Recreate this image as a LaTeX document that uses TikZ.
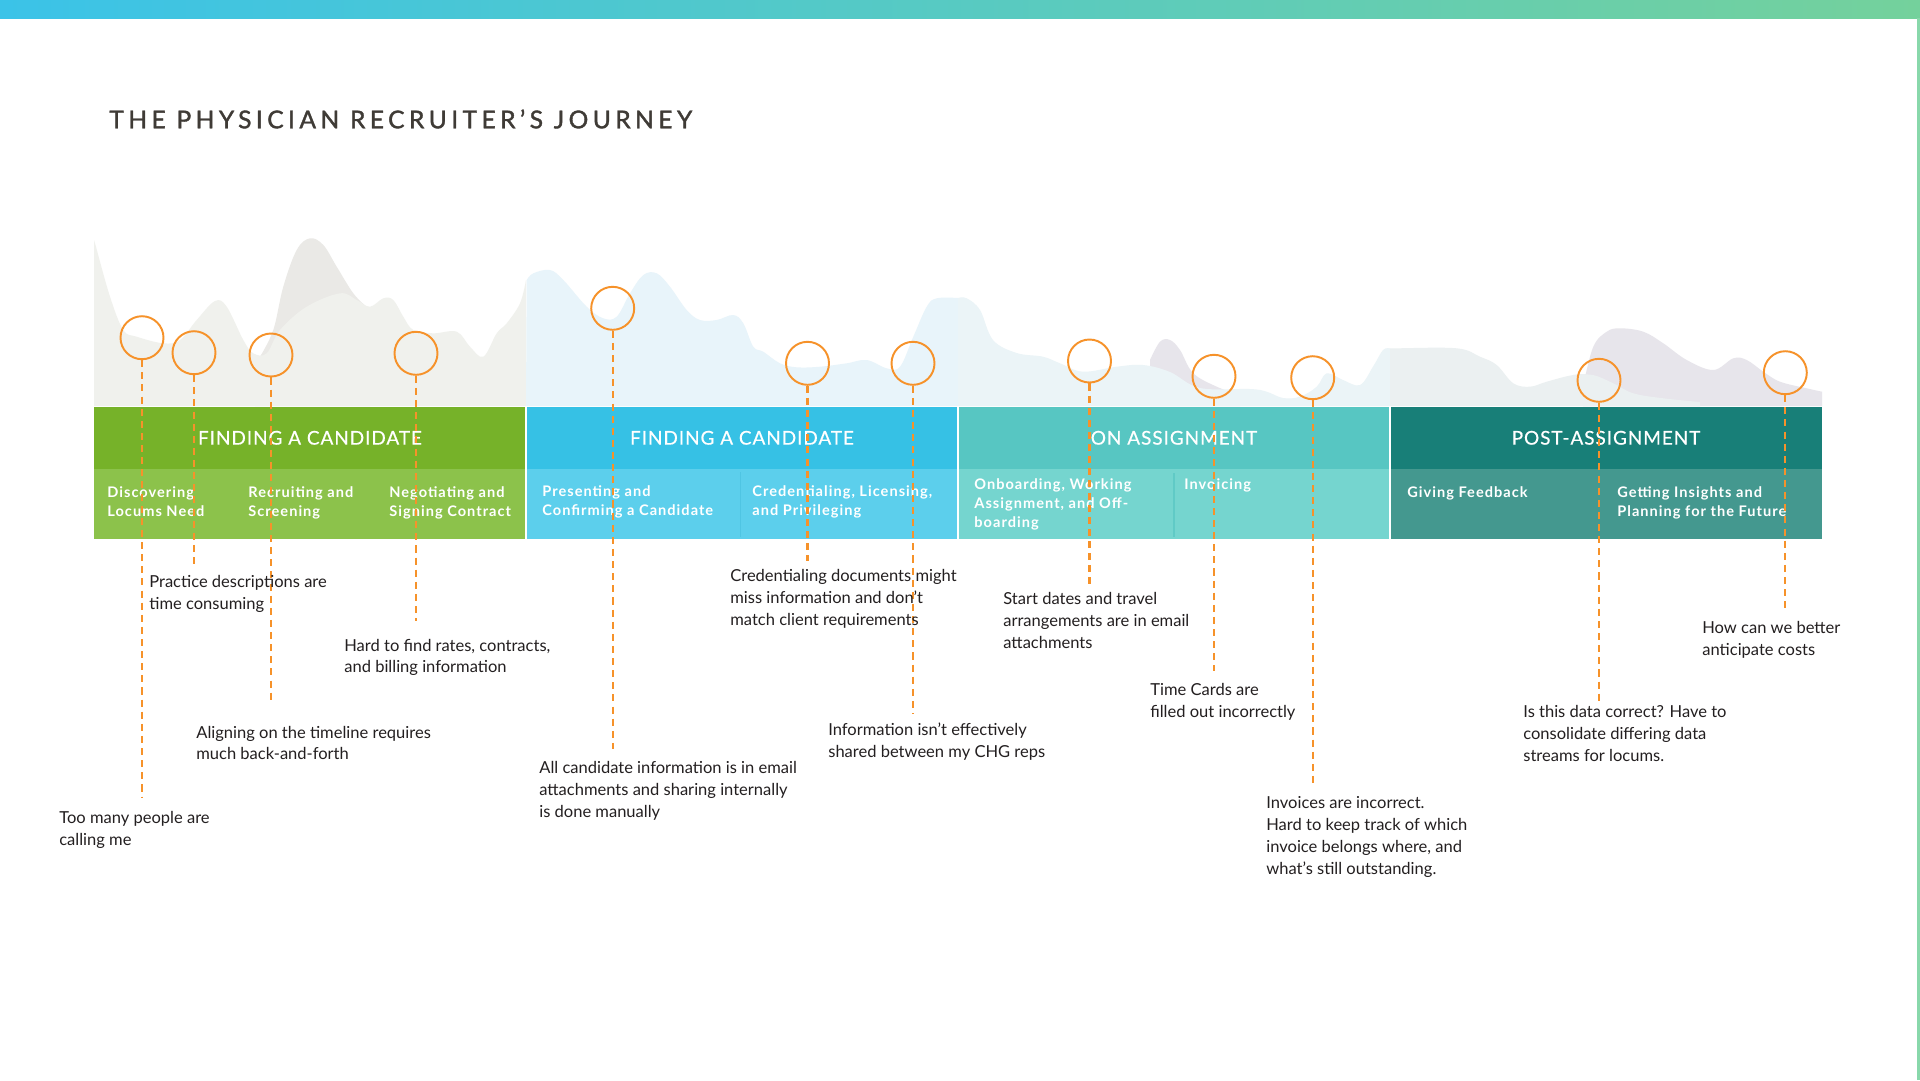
\documentclass[tikz,border=0pt]{standalone}
\usepackage{fontspec}
\setmainfont{Lato}
\newfontfamily\titlefont[LetterSpace=18,FakeBold=1.5]{Lato}
\newfontfamily\headfont[LetterSpace=5,FakeBold=0.5]{Lato}
\newfontfamily\subfont[LetterSpace=7]{Lato}
\newfontfamily\notefont{Lato}
\usetikzlibrary{positioning}

\definecolor{barL}{HTML}{3BC3E8}
\definecolor{barR}{HTML}{74D19C}
\definecolor{titlegray}{HTML}{3F3B36}
\definecolor{grnH}{HTML}{76B229}
\definecolor{grnS}{HTML}{8CC24B}
\definecolor{bluH}{HTML}{36C1E5}
\definecolor{bluS}{HTML}{5CCFEC}
\definecolor{teaH}{HTML}{57C6C2}
\definecolor{teaS}{HTML}{75D5CF}
\definecolor{dkH}{HTML}{187F78}
\definecolor{dkS}{HTML}{44988F}
\definecolor{painorange}{HTML}{F6922A}
\definecolor{notegray}{HTML}{231F20}
\definecolor{hillA}{HTML}{F0F1ED}
\definecolor{hillAd}{HTML}{EAE9E6}
\definecolor{hillB}{HTML}{E8F4FA}
\definecolor{hillC}{HTML}{EBF4F7}
\definecolor{hillD}{HTML}{EBF0F1}
\definecolor{hillP}{HTML}{E7E5EB}

\tikzset{
  hdr/.style={fill=#1, text=white, minimum width=8.64cm, minimum height=1.246cm,
    inner sep=0pt, font=\headfont\fontsize{10.8}{12}\selectfont},
  sublabel/.style={anchor=north west, inner sep=0pt, align=left, text=white,
    font=\subfont\bfseries\fontsize{8.3}{10.8}\selectfont},
  note/.style={anchor=north west, inner sep=0pt, align=left, text=notegray,
    font=\notefont\fontsize{9.4}{12.5}\selectfont},
  ringnode/.style={circle, draw=painorange, line width=1.1pt, minimum size=0.86cm, inner sep=0pt},
  painline/.style={draw=painorange, line width=1.25pt, dash pattern=on 4pt off 2.9pt}
}

\begin{document}
\begin{tikzpicture}[x=0.02cm, y=-0.02cm]
  \useasboundingbox (0,0) rectangle (1920,1080);
  \fill[white] (0,0) rectangle (1920,1080);

  % top bar and right edge
  \shade[left color=barL, right color=barR] (0,0) rectangle (1920,18);
  \fill[barR!85] (1917,18) rectangle (1920,1080);

  \node[anchor=west, inner sep=0pt, text=titlegray, font=\titlefont\fontsize{14}{16}\selectfont]
    (title) at (109,119) {THE PHYSICIAN RECRUITER’S JOURNEY};

  % hills behind the band
  \fill[hillAd] (255,406) -- plot[smooth, tension=0.6] coordinates {(260,356.7) (273.3,330) (283.3,286.7) (296.7,250) (310,238.3) (323.3,245) (336.7,266.7) (353.3,293.3) (366.7,307)} -- (370,406) -- cycle;
  \fill[hillA] (94,406) -- (94,240) -- plot[smooth, tension=0.6] coordinates {(96,246.7) (110,296.7) (123.3,330) (136.7,336.7) (163.3,343.3) (180,340) (196.7,320) (215,301) (226.7,306.7) (243.3,340) (253.3,353.3) (266.7,353.3) (280,330) (306.7,306.7) (340,293.3) (356.7,300) (370,306.7) (383.3,298.3) (393.3,300) (403.3,316.7) (413.3,330) (433.3,333.3) (456.7,331.7) (470,346.7) (483.3,356.7) (496.7,333.3) (506.7,323.3) (520,303.3) (526,280)} -- (526,406) -- cycle;
  \fill[hillB] (526,406) -- plot[smooth, tension=0.6] coordinates {(526.7,280) (533.3,273.3) (550,270) (563.3,280) (586.7,306.7) (603.3,318.3) (616.7,316.7) (630,293.3) (643.3,275) (656.7,273.3) (670,286.7) (686.7,310) (700,320) (716.7,320) (733.3,315) (743.3,323.3) (753.3,346.7) (763.3,351.7) (780,363.3) (796.7,367.3) (820,366.7) (846.7,363.3) (866.7,360) (886.7,368.3) (900,366.7) (913.3,336.7) (926.7,306.7) (936.7,298.3) (958,298)} -- (958,406) -- cycle;
  \fill[hillP] (1150,406) -- plot[smooth, tension=0.6] coordinates {(1150,360) (1160,341.7) (1170,340) (1180,350) (1193,373) (1216.7,386.7) (1240,395)} -- (1240,406) -- cycle;
  \fill[hillC] (958,406) -- plot[smooth, tension=0.6] coordinates {(958,298) (966.7,298.3) (980,310) (993,340) (1016.7,353) (1043,356.7) (1060,363.3) (1083,371.7) (1116.7,366.7) (1143,365) (1170,372) (1200,388) (1250,389) (1266.7,391.7) (1283,398) (1300,396.7) (1316.7,386.7) (1326.7,373.3) (1343,380) (1360,385) (1373,366.7) (1383,350) (1390,348.5)} -- (1390,406) -- cycle;
  \fill[hillD] (1390,406) -- plot[smooth, tension=0.6] coordinates {(1390,348.5) (1396.7,348.3) (1456.7,348.3) (1480,356.7) (1496.7,365) (1513.3,383.3) (1530,386.7) (1546.7,381.7) (1573.3,375) (1593,375) (1613.3,383.3) (1633.3,393.3) (1663.3,398.3) (1700,402)} -- (1700,406) -- cycle;
  \fill[hillP] (1583,406) -- plot[smooth, tension=0.6] coordinates {(1583.3,385) (1593.3,346.7) (1606.7,331.7) (1620,328.3) (1643.3,331.7) (1663.3,343.3) (1686.7,360) (1713.3,370) (1733.3,358.3) (1746.7,360) (1763.3,371.7) (1780,381.7) (1806.7,388.3) (1822,391.7)} -- (1822,406) -- cycle;
  \fill[hillD] (1583,406) -- plot[smooth, tension=0.6] coordinates {(1573.3,375) (1593,375) (1613.3,383.3) (1633.3,393.3) (1663.3,398.3) (1700,402)} -- (1700,406) -- cycle;

  % phase band
  \foreach \i/\hc/\sc/\txt in {0/grnH/grnS/FINDING A CANDIDATE, 1/bluH/bluS/FINDING A CANDIDATE,
      2/teaH/teaS/ON ASSIGNMENT, 3/dkH/dkS/POST-ASSIGNMENT} {
    \node[hdr=\hc] (ph\i) at (310+432*\i, 437.8) {\txt};
    \fill[\sc] (94+432*\i, 469) rectangle (526+432*\i, 539);
  }
  \draw[bluH!90!black!30!bluS, line width=0.6pt] (740.7,472) -- (740.7,537);
  \draw[teaH!70!teaS, line width=0.6pt] (1174,473) -- (1174,537);
  \foreach \x in {526,958,1390} \draw[white, line width=1.2pt] (\x,406) -- (\x,539);

  \node[sublabel] (st1) at (107,486.5) {Discovering\\Locums Need};
  \node[sublabel] (st2) at (248,486.5) {Recruiting and\\Screening};
  \node[sublabel] (st3) at (389,486.5) {Negotiating and\\Signing Contract};
  \node[sublabel] (st4) at (542,485.5) {Presenting and\\Confirming a Candidate};
  \node[sublabel] (st5) at (752,485.5) {Credentialing, Licensing,\\and Privileging};
  \node[sublabel] (st6) at (974,478.5) {Onboarding, Working\\Assignment, and Off-\\boarding};
  \node[sublabel] (st7) at (1184,478.5) {Invoicing};
  \node[sublabel] (st8) at (1407,486.5) {Giving Feedback};
  \node[sublabel] (st9) at (1617,486.5) {Getting Insights and\\Planning for the Future};

  % pain points
  \foreach \n/\cx/\cy/\ey in {1/142/337.7/798, 2/194/352.7/564, 3/271/355/703, 4/416/353.3/621,
      5/612.7/308.3/749, 6/807.5/363.3/561, 7/913/363.3/714, 8/1089.5/361/588,
      9/1214/376.3/671, 10/1312.7/377.7/785, 11/1599/380.3/704, 12/1785.3/372.7/612} {
    \node[ringnode] (c\n) at (\cx,\cy) {};
    \coordinate (e\n) at (\cx,\ey);
    \draw[painline] (c\n.south) -- (e\n);
  }

  \node[note] (n1) at (59,811) {Too many people are\\calling me};
  \node[note] (n2) at (149,575) {Practice descriptions are\\time consuming};
  \node[note] (n3) at (196,725.5) {Aligning on the timeline requires\\much back-and-forth};
  \node[note] (n4) at (344,638.5) {Hard to find rates, contracts,\\and billing information};
  \node[note] (n5) at (539,761) {All candidate information is in email\\attachments and sharing internally\\is done manually};
  \node[note] (n6) at (730,569) {Credentialing documents might\\miss information and don’t\\match client requirements};
  \node[note] (n7) at (828,723) {Information isn’t effectively\\shared between my CHG reps};
  \node[note] (n8) at (1003,592) {Start dates and travel\\arrangements are in email\\attachments};
  \node[note] (n9) at (1150,682.6) {Time Cards are\\filled out incorrectly};
  \node[note] (n10) at (1266,796.5) {Invoices are incorrect.\\Hard to keep track of which\\invoice belongs where, and\\what’s still outstanding.};
  \node[note] (n11) at (1523,704.7) {Is this data correct? Have to\\consolidate differing data\\streams for locums.};
  \node[note] (n12) at (1702,621) {How can we better\\anticipate costs};
\end{tikzpicture}
\end{document}
